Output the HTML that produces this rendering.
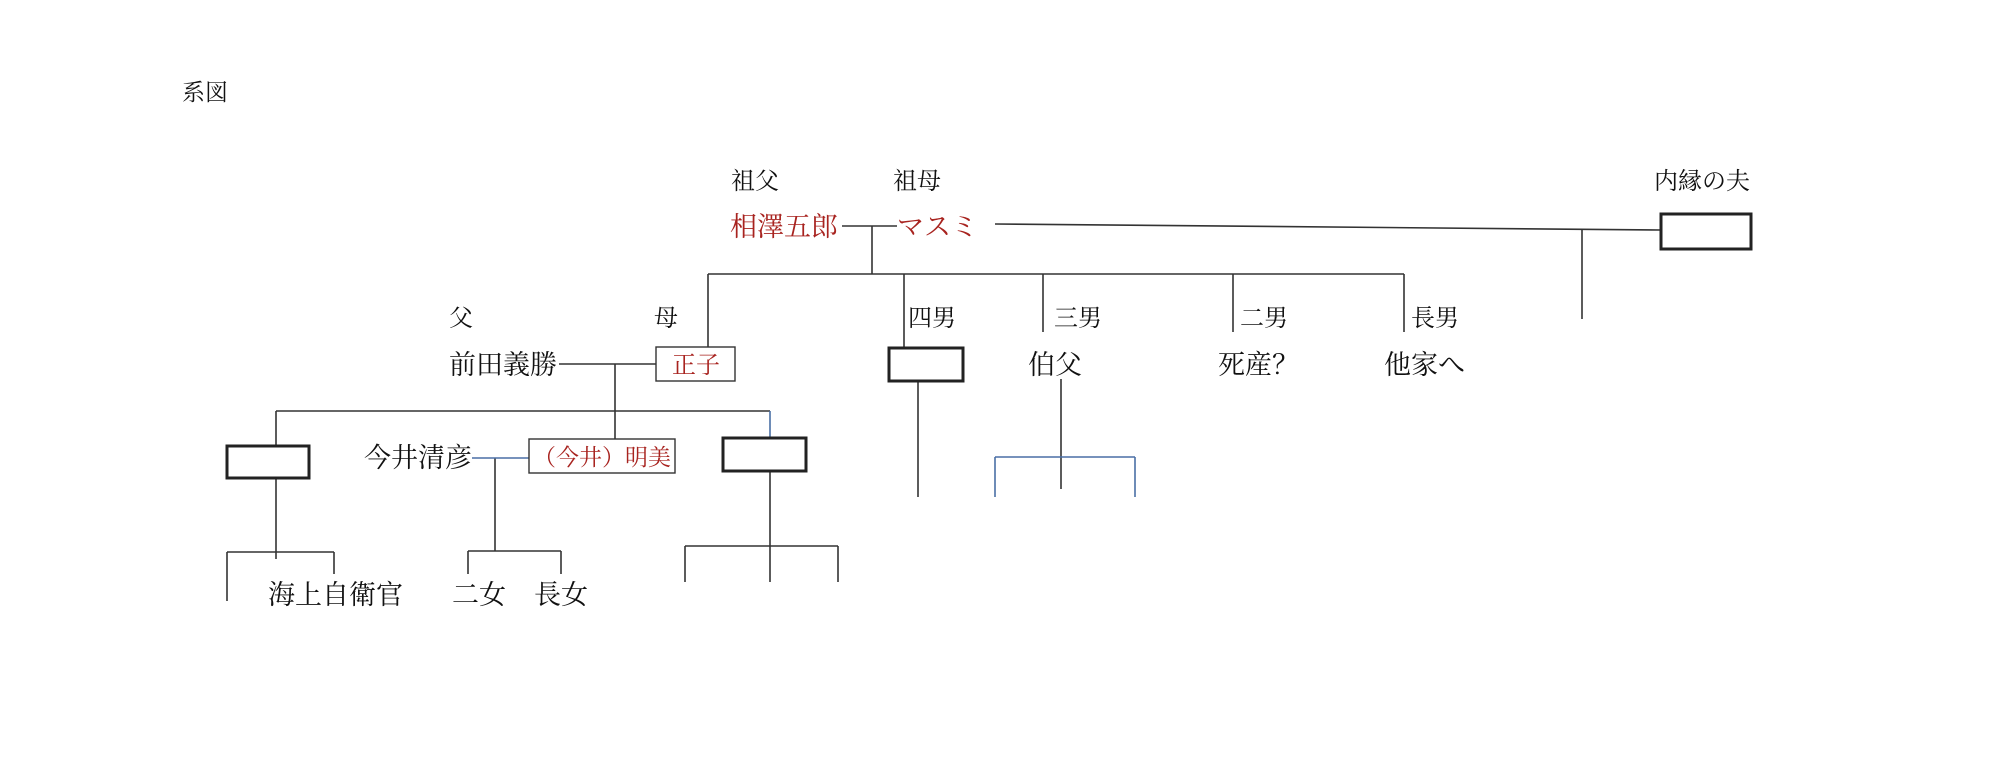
<!DOCTYPE html>
<html><head><meta charset="utf-8"><style>
html,body{margin:0;padding:0;background:#fff;}
svg{display:block;}
text{font-family:"Liberation Serif","Noto Serif CJK SC","Noto Sans CJK JP",serif;fill:#111;}
.r{fill:#a8231f;}
</style></head><body>
<svg width="2000" height="763" viewBox="0 0 2000 763" xmlns="http://www.w3.org/2000/svg">
<g stroke="#333" stroke-width="1.6" fill="none">
<!-- grandparents -->
<line x1="842" y1="226" x2="897" y2="226"/>
<line x1="872" y1="226" x2="872" y2="274"/>
<line x1="995" y1="224" x2="1661" y2="230"/>
<line x1="1582" y1="229" x2="1582" y2="319"/>
<line x1="708" y1="274" x2="1404" y2="274"/>
<line x1="708" y1="274" x2="708" y2="347"/>
<line x1="904" y1="274" x2="904" y2="348"/>
<line x1="1043" y1="274" x2="1043" y2="332"/>
<line x1="1233" y1="274" x2="1233" y2="332"/>
<line x1="1404" y1="274" x2="1404" y2="332"/>
<!-- parents -->
<line x1="559" y1="364" x2="656" y2="364"/>
<line x1="615" y1="364" x2="615" y2="439"/>
<line x1="276" y1="411" x2="770" y2="411"/>
<line x1="276" y1="411" x2="276" y2="445"/>
<line x1="918" y1="381" x2="918" y2="497"/>
<line x1="1061" y1="379" x2="1061" y2="489"/>
<line x1="276" y1="478" x2="276" y2="559"/>
<line x1="227" y1="552" x2="334" y2="552"/>
<line x1="227" y1="552" x2="227" y2="601"/>
<line x1="334" y1="552" x2="334" y2="574"/>
<line x1="495" y1="458" x2="495" y2="551"/>
<line x1="468" y1="551" x2="561" y2="551"/>
<line x1="468" y1="551" x2="468" y2="574"/>
<line x1="561" y1="551" x2="561" y2="574"/>
<line x1="770" y1="471" x2="770" y2="582"/>
<line x1="685" y1="546" x2="838" y2="546"/>
<line x1="685" y1="546" x2="685" y2="582"/>
<line x1="838" y1="546" x2="838" y2="582"/>
</g>
<g stroke="#4a6fa5" stroke-width="1.6" fill="none">
<line x1="770" y1="411" x2="770" y2="437"/>
<line x1="472" y1="458" x2="529" y2="458"/>
<line x1="995" y1="457" x2="1135" y2="457"/>
<line x1="995" y1="457" x2="995" y2="497"/>
<line x1="1135" y1="457" x2="1135" y2="497"/>
</g>
<g stroke="#333" stroke-width="1.4" fill="#fff">
<rect x="656" y="347" width="79" height="34"/>
<rect x="529" y="439" width="146" height="34"/>
</g>
<g stroke="#222" stroke-width="3" fill="#fff">
<rect x="1661" y="214" width="90" height="35"/>
<rect x="889" y="348" width="74" height="33"/>
<rect x="227" y="446" width="82" height="32"/>
<rect x="723" y="438" width="83" height="33"/>
</g>
<text x="182" y="100" font-size="23">系図</text>
<text x="731" y="189" font-size="24">祖父</text>
<text x="893" y="189" font-size="24">祖母</text>
<text x="1654" y="189" font-size="24">内縁の夫</text>
<text class="r" x="730" y="236" font-size="27">相澤五郎</text>
<text class="r" x="897" y="236" font-size="27">マスミ</text>
<text x="449" y="326" font-size="24">父</text>
<text x="654" y="326" font-size="24">母</text>
<text x="908" y="326" font-size="24">四男</text>
<text x="1054" y="326" font-size="24">三男</text>
<text x="1240" y="326" font-size="24">二男</text>
<text x="1411" y="326" font-size="24">長男</text>
<text x="449" y="374" font-size="27">前田義勝</text>
<text class="r" x="672" y="373" font-size="24">正子</text>
<text x="1028" y="374" font-size="27">伯父</text>
<text x="1218" y="374" font-size="27">死産？</text>
<text x="1384" y="374" font-size="27">他家へ</text>
<text x="364" y="467" font-size="27">今井清彦</text>
<text class="r" x="533" y="465" font-size="23">（今井）明美</text>
<text x="268" y="604" font-size="27">海上自衛官</text>
<text x="452" y="604" font-size="27">二女</text>
<text x="534" y="604" font-size="27">長女</text>
</svg>
</body></html>
